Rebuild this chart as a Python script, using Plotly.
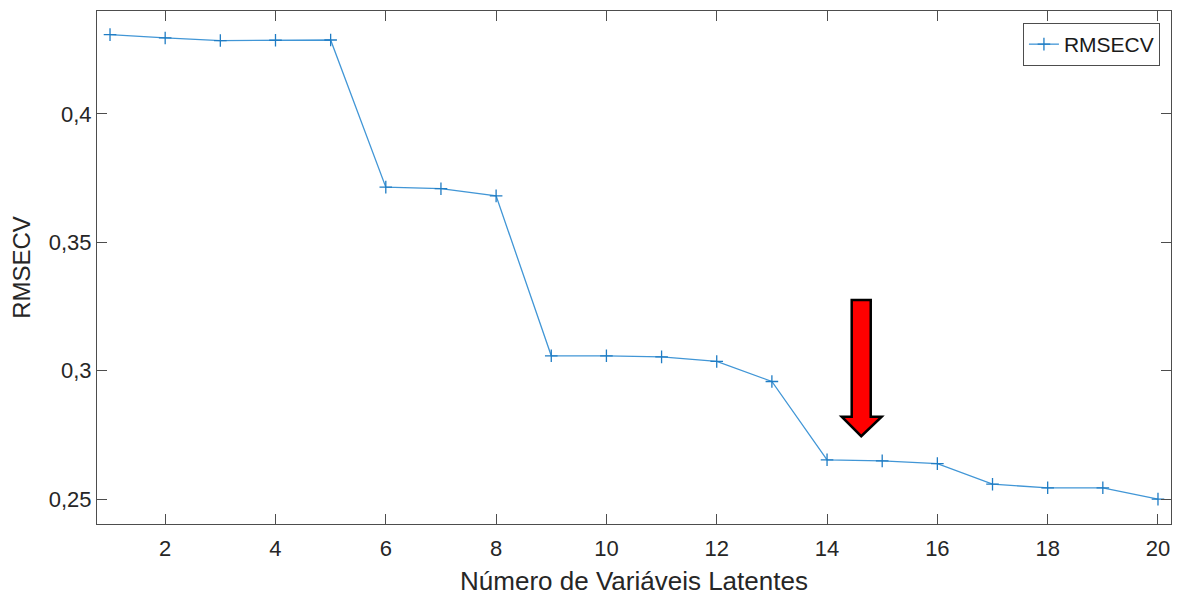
import plotly.graph_objects as go

# Data
n_latent = list(range(1, 21))
rmsecv = [0.4309, 0.4296, 0.4286, 0.4287, 0.4288,
          0.3715, 0.3709, 0.3681, 0.3058, 0.3058,
          0.3054, 0.3036, 0.2958, 0.2653, 0.2649,
          0.2638, 0.2558, 0.2544, 0.2544, 0.2500]
x_ticks = [2, 4, 6, 8, 10, 12, 14, 16, 18, 20]
y_ticks = [0.25, 0.30, 0.35, 0.40]
y_tick_labels = ["0,25", "0,3", "0,35", "0,4"]

# Arrow annotation (data coordinates)
arrow_shaft_x = (14.447, 14.792)
arrow_head_x = (14.266, 14.99)
arrow_tip_x = 14.62
arrow_top_y = 0.3275
arrow_head_base_y = 0.2821
arrow_tip_y = 0.2745

FONT = "Liberation Sans, Arial, Helvetica, sans-serif"
AXCOL = "#4d4d4d"
LINECOL = "#4196d6"

fig = go.Figure()
fig.add_trace(go.Scatter(
    x=n_latent, y=rmsecv, mode="lines+markers", name="RMSECV",
    line=dict(color=LINECOL, width=1.3),
    marker=dict(symbol="cross-thin", size=9, line=dict(color="#1f7cc4", width=1.3)),
))

path = (f"M {arrow_shaft_x[0]} {arrow_top_y} L {arrow_shaft_x[1]} {arrow_top_y} "
        f"L {arrow_shaft_x[1]} {arrow_head_base_y} L {arrow_head_x[1]} {arrow_head_base_y} "
        f"L {arrow_tip_x} {arrow_tip_y} L {arrow_head_x[0]} {arrow_head_base_y} "
        f"L {arrow_shaft_x[0]} {arrow_head_base_y} Z")
fig.add_shape(type="path", path=path, xref="x", yref="y",
              fillcolor="#ff0000", line=dict(color="black", width=2.5))

axis_common = dict(showline=True, linecolor=AXCOL, linewidth=1, mirror="ticks",
                   ticks="inside", ticklen=10, tickcolor=AXCOL, tickwidth=1,
                   showgrid=False, zeroline=False,
                   tickfont=dict(family=FONT, size=22, color="#262626"))

fig.update_layout(
    width=1177, height=596,
    margin=dict(l=97, r=6, t=11, b=72),
    paper_bgcolor="white", plot_bgcolor="white",
    separators=",.",
    xaxis=dict(range=[0.764, 20.236], tickvals=x_ticks, ticklabelstandoff=5,
               title=dict(text="Número de Variáveis Latentes", standoff=11,
                          font=dict(family=FONT, size=26, color="#262626")),
               **axis_common),
    yaxis=dict(range=[0.2403, 0.4401], tickvals=y_ticks, ticktext=y_tick_labels,
               title=dict(text="RMSECV", standoff=11,
                          font=dict(family=FONT, size=24, color="#262626")),
               **axis_common),
    showlegend=True,
    legend=dict(x=0.9897, y=0.9766, xanchor="right", yanchor="top",
                bordercolor=AXCOL, borderwidth=1, bgcolor="white",
                font=dict(family=FONT, size=21, color="#1a1a1a"),
                itemwidth=30, tracegroupgap=0),
)

fig.write_html("out.html")
